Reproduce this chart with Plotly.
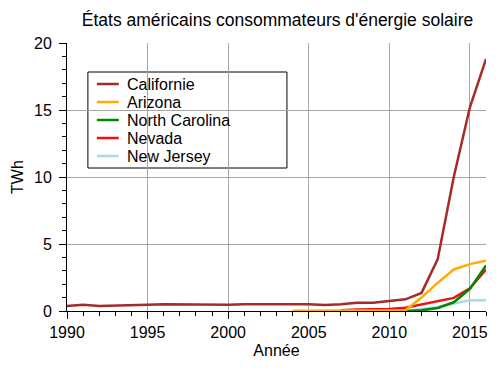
import plotly.graph_objects as go

years_ca = list(range(1990, 2017))
california = [0.37, 0.47, 0.37, 0.42, 0.45, 0.47, 0.50, 0.48, 0.48, 0.48, 0.47,
              0.50, 0.50, 0.50, 0.52, 0.50, 0.45, 0.50, 0.62, 0.62, 0.75, 0.87,
              1.35, 3.85, 10.0, 15.2, 18.8]

years_az = list(range(2004, 2017))
arizona = [0.01, 0.01, 0.01, 0.01, 0.01, 0.01, 0.02, 0.05, 1.0, 2.1, 3.1, 3.5, 3.75]

years_nc = list(range(2011, 2017))
north_carolina = [0.0, 0.05, 0.22, 0.65, 1.65, 3.4]

years_nv = list(range(2007, 2017))
nevada = [0.05, 0.12, 0.13, 0.15, 0.25, 0.5, 0.72, 0.98, 1.7, 3.1]

years_nj = list(range(2011, 2017))
new_jersey = [0.0, 0.15, 0.3, 0.55, 0.8, 0.8]

x_ticks = [1990, 1995, 2000, 2005, 2010, 2015]
y_ticks = [0, 5, 10, 15, 20]

# drawing order (bottom to top); rank = legend position
series = [
    ("New Jersey", years_nj, new_jersey, "#add8e6", 4),
    ("Nevada", years_nv, nevada, "#ee1111", 3),
    ("North Carolina", years_nc, north_carolina, "#008800", 2),
    ("Arizona", years_az, arizona, "#ffad00", 1),
    ("Californie", years_ca, california, "#a52a2a", 0),
]

L, R, T, B = 67, 12, 43, 63
W, H = 500, 374
pw, ph = W - L - R, H - T - B

def px_x(p):
    return (p - L) / pw

def px_y(p):
    return (H - B - p) / ph

font = "Liberation Sans, Arial, sans-serif"

fig = go.Figure()
for name, xs, ys, col, rank in series:
    fig.add_trace(go.Scatter(x=xs, y=ys, mode="lines", name=name,
                             line=dict(color=col, width=2.5), showlegend=False))

# legend box
fig.add_shape(type="rect", xref="paper", yref="paper",
              x0=px_x(88), x1=px_x(288), y0=px_y(168), y1=px_y(72),
              line=dict(color="black", width=1), fillcolor="white",
              layer="between")
# legend entries
for name, xs, ys, col, rank in series:
    yy = px_y(84 + 18 * rank)
    fig.add_shape(type="line", xref="paper", yref="paper",
                  x0=px_x(97), x1=px_x(119), y0=yy, y1=yy,
                  line=dict(color=col, width=2.5), layer="above")
    fig.add_annotation(xref="paper", yref="paper", x=px_x(125), y=yy,
                       xanchor="left", yanchor="middle", text=name, showarrow=False,
                       font=dict(size=16, family=font, color="black"))

fig.update_layout(
    width=W, height=H,
    margin=dict(l=L, r=R, t=T, b=B),
    paper_bgcolor="white", plot_bgcolor="white",
    font=dict(family=font, color="black", size=16),
    title=dict(text="États américains consommateurs d'énergie solaire",
               x=(L + pw / 2) / W, xanchor="center", y=1 - 20 / H, yanchor="middle",
               font=dict(size=17.5, family=font, color="black")),
    showlegend=False,
)
fig.update_xaxes(range=[1990, 2016], tickvals=x_ticks, ticks="outside", ticklen=7,
                 tickcolor="black", showline=True, linecolor="black", linewidth=1,
                 showgrid=True, gridcolor="#a6a6a6", gridwidth=1, zeroline=False,
                 minor=dict(dtick=1, ticks="outside", ticklen=4, tickcolor="black", showgrid=False),
                 title=dict(text="Année", font=dict(size=16), standoff=4),
                 tickfont=dict(size=16))
fig.update_yaxes(range=[0, 20], tickvals=y_ticks, ticks="outside", ticklen=7,
                 tickcolor="black", showline=True, linecolor="black", linewidth=1,
                 showgrid=True, gridcolor="#a6a6a6", gridwidth=1, zeroline=False,
                 minor=dict(dtick=1, ticks="outside", ticklen=4, tickcolor="black", showgrid=False),
                 title=dict(text="TWh", font=dict(size=16), standoff=6),
                 tickfont=dict(size=16), ticklabelstandoff=4)

fig.write_html("out.html", config={"displayModeBar": False},
               post_script="document.body.style.margin='0';")
